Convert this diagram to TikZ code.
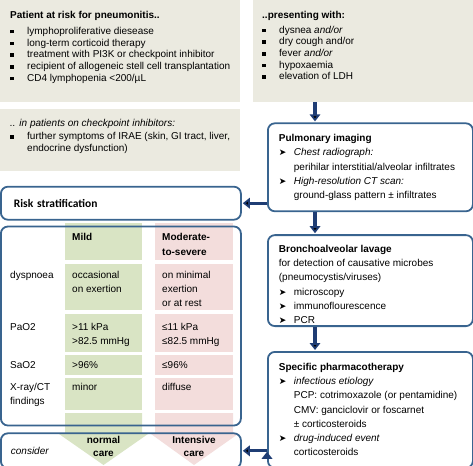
\documentclass[tikz,border=0pt]{standalone}
\usepackage{fontspec}
\setmainfont{Liberation Sans}
\newfontfamily\calfont{Carlito}
\newfontfamily\dingfont{DejaVu Sans}
\usetikzlibrary{positioning, arrows.meta}
\definecolor{notefill}{HTML}{EBEAE0}
\definecolor{stageline}{HTML}{39648F}
\definecolor{flowline}{HTML}{1F3D74}
\definecolor{mildfill}{HTML}{D9E4C4}
\definecolor{severefill}{HTML}{F3DDDC}
\setlength\parskip{0pt}
\newcommand\panelbox[3]{\parbox[t][#2][t]{#1}{#3}}
\newcommand\bulletitem{\par\hangindent=17pt\hangafter=1%
  \makebox[17pt][l]{\raisebox{1pt}{\rule{3.6pt}{3.6pt}}}}
\newcommand\arrowitem{\par\hangindent=15pt\hangafter=1%
  \makebox[15pt][l]{\dingfont\fontsize{9}{10}\selectfont ➤}}
\newcommand\rows[1]{\begin{tabular}[t]{@{}l@{}}#1\end{tabular}}
\newcommand\crows[1]{\begin{tabular}[t]{@{}c@{}}#1\end{tabular}}

\begin{document}
\begin{tikzpicture}[x=1pt, y=-1pt,
    note/.style={fill=notefill, inner xsep=10pt, inner ysep=11pt, anchor=north west,
      font=\fontsize{10}{11.7}\selectfont},
    stage/.style={draw=stageline, line width=1.8pt, rounded corners=7pt,
      inner xsep=11pt, inner ysep=11pt, font=\fontsize{10}{14.3}\selectfont},
    flow/.style={draw=flowline, line width=3.2pt, -{Triangle[width=10.5pt,length=7pt]}, shorten >=1pt},
    cell/.style={inner sep=0pt, anchor=base west, font=\fontsize{10}{14.2}\selectfont},
    head/.style={cell, font=\bfseries\fontsize{10}{14.5}\selectfont},
    mild/.style={fill=mildfill},
    severe/.style={fill=severefill}]
  \useasboundingbox (0,0) rectangle (473,465);

  % grading columns first, the frames go on top
  \foreach \t/\b in {223/260, 264/310, 314/352, 355/375, 378/410} {
    \fill[mild] (65,\t) rectangle (142,\b);
    \fill[severe] (155,\t) rectangle (233,\b);
  }
  \fill[mild] (65,413) -- (142,413) -- (142,434) -- (148,434) -- (103.5,465) -- (59,434) -- (65,434) -- cycle;
  \fill[severe] (155,413) -- (233,413) -- (233,434) -- (238,434) -- (194,465) -- (151,434) -- (155,434) -- cycle;

  % left column
  \node[note] (risk) at (0,0) {\panelbox{220pt}{80pt}{%
    \textbf{Patient at risk for pneumonitis..}\par\vspace{4.3pt}
    \bulletitem lymphoproliferative diesease
    \bulletitem long-term corticoid therapy
    \bulletitem treatment with PI3K or checkpoint inhibitor
    \bulletitem recipient of allogeneic stell cell transplantation
    \bulletitem CD4 lymphopenia <200/µL}};
  \node[note] (ckpt) [below=6pt of risk.south west, anchor=north west] {\panelbox{220pt}{40pt}{%
    \textit{.. in patients on checkpoint inhibitors:}\par\vspace{1pt}
    \bulletitem further symptoms of IRAE (skin, GI tract, liver,\\endocrine dysfunction)}};
  \node[stage, minimum height=33pt, text width=214pt, inner xsep=13pt, inner ysep=0pt, align=left,
    font=\calfont\bfseries\fontsize{11.5}{13}\selectfont] (strat)
    [below=15pt of ckpt.south west, anchor=north west] {Risk stratification};
  \node[stage, minimum width=240pt, minimum height=199pt, inner sep=0pt] (grade)
    [below=5pt of strat.south west, anchor=north west] {};
  \node[stage, minimum height=35pt, text width=220pt, inner xsep=10pt, inner ysep=0pt, align=left] (cons)
    [below=6pt of grade.south west, anchor=north west] {\textit{consider}};

  % right column
  \node[note, inner xsep=9pt] (pres) at (253,0) {\panelbox{202pt}{80pt}{%
    \textbf{..presenting with:}\par\vspace{3pt}
    \bulletitem dysnea \textit{and/or}
    \bulletitem dry cough and/or
    \bulletitem fever \textit{and/or}
    \bulletitem hypoxaemia
    \bulletitem elevation of LDH}};
  \node[stage] (pulm) [below=20pt of pres.south west, anchor=north west, xshift=14pt] {\panelbox{183pt}{66pt}{%
    \textbf{Pulmonary imaging}
    \arrowitem\textit{Chest radiograph:}\\perihilar interstitial/alveolar infiltrates
    \arrowitem\textit{High-resolution CT scan:}\\ground-glass pattern ± infiltrates}};
  \node[stage, inner ysep=10pt] (bal) [below=22pt of pulm.south west, anchor=north west] {\panelbox{183pt}{71pt}{%
    \textbf{Bronchoalveolar lavage}\par
    for detection of causative microbes\\(pneumocystis/viruses)
    \arrowitem microscopy
    \arrowitem immunoflourescence
    \arrowitem PCR}};
  \node[stage] (pharm) [below=24pt of bal.south west, anchor=north west] {\panelbox{183pt}{94pt}{%
    \textbf{Specific pharmacotherapy}
    \arrowitem\textit{infectious etiology}\\PCP: cotrimoxazole (or pentamidine)\\CMV: ganciclovir or foscarnet\\± corticosteroids
    \arrowitem\textit{drug-induced event}\\corticosteroids}};

  % grading table
  \node[head] (hmild) at (72,240.5) {Mild};
  \node[head] (hsev) at (162,240.5) {\rows{Moderate-\\to-severe}};
  \node[cell] (ldysp) at (10,278.5) {dyspnoea};
  \node[cell] (mdysp) at (72,278.5) {\rows{occasional\\on exertion}};
  \node[cell] (sdysp) at (162,278.5) {\rows{on minimal\\exertion\\or at rest}};
  \node[cell] (lpao) at (10,330.5) {PaO2};
  \node[cell] (mpao) at (72,330.5) {\rows{>11 kPa\\>82.5 mmHg}};
  \node[cell] (spao) at (162,330.5) {\rows{≤11 kPa\\≤82.5 mmHg}};
  \node[cell] (lsao) at (10,368.5) {SaO2};
  \node[cell] (msao) at (72,368.5) {>96\%};
  \node[cell] (ssao) at (162,368.5) {≤96\%};
  \node[cell] (lxray) at (10,390.5) {\rows{X-ray/CT\\findings}};
  \node[cell] (mxray) at (72,390.5) {minor};
  \node[cell] (sxray) at (162,390.5) {diffuse};
  \node[head, anchor=base, font=\bfseries\fontsize{10}{13}\selectfont] (normal) at (103.5,443) {\crows{normal\\care}};
  \node[head, anchor=base, font=\bfseries\fontsize{10}{13}\selectfont] (icu) at (194,443) {\crows{Intensive\\care}};

  \coordinate (col) at (315,0);
  \path[flow]
    (pres.south -| col) edge (pulm.north -| col)
    (pulm.south -| col) edge (bal.north -| col)
    (bal.south -| col) edge (pharm.north -| col)
    (strat.east -| pulm.west) edge (strat.east)
    (cons.east -| pharm.west) edge (cons.east);
\end{tikzpicture}
\end{document}
